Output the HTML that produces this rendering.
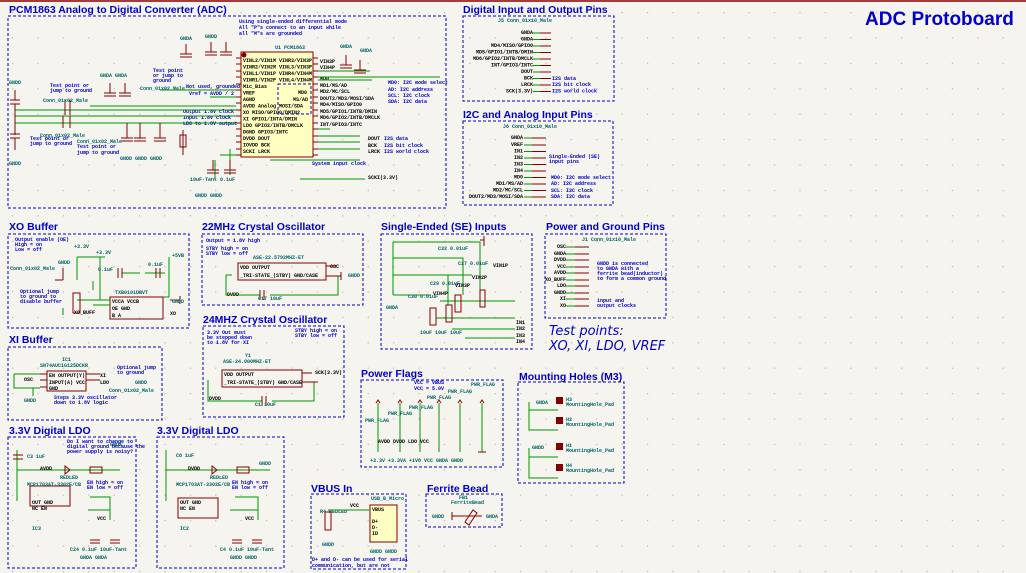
<!DOCTYPE html>
<html><head><meta charset="utf-8"><style>
html,body{margin:0;padding:0;background:#f5f4ef;}
svg{display:block}
.t{font-family:"Liberation Sans",sans-serif;font-weight:bold;fill:#0000c8;font-size:10.5px}
.s{font-family:"Liberation Mono",monospace;font-size:5px;fill:#000;font-weight:bold}
.b{font-family:"Liberation Mono",monospace;font-size:5px;fill:#0000c8;font-weight:bold}
.g{font-family:"Liberation Mono",monospace;font-size:5px;fill:#006464;font-weight:bold}
.box{fill:none;stroke:#0000c8;stroke-width:1;stroke-dasharray:3,2}
.w{stroke:#009600;stroke-width:1;fill:none}
.r{stroke:#840000;stroke-width:1;fill:none}
.chip{fill:#ffffc2;stroke:#840000;stroke-width:1}
.ic{fill:none;stroke:#840000;stroke-width:1}
</style></head><body>
<svg width="1026" height="573" viewBox="0 0 1026 573" xmlns="http://www.w3.org/2000/svg">
<defs><pattern id="dots" width="25.4" height="25.4" patternUnits="userSpaceOnUse"><rect x="12" y="12" width="1.2" height="1.2" fill="#b8b8b0"/></pattern></defs>
<rect width="1026" height="573" fill="#f5f4ef"/>
<rect width="1026" height="573" fill="url(#dots)"/>
<line x1="0" y1="1" x2="1026" y2="1" stroke="#840000" stroke-width="1.5"/>

<!-- ADC -->
<text class="t" x="9" y="13">PCM1863 Analog to Digital Converter (ADC)</text>
<rect class="box" x="8" y="16" width="438" height="192"/>
<text class="b" x="239" y="23">Using single-ended differential mode</text>
<text class="b" x="239" y="29">All "P"s connect to an input while</text>
<text class="b" x="239" y="35">all "M"s are grounded</text>
<rect class="chip" x="241" y="52" width="72" height="105"/>
<circle cx="244" cy="55" r="2.5" fill="#840000"/>
<text class="g" x="275" y="49">U1 PCM1863</text>
<g class="s">
<text x="243" y="62">VINL2/VIN1M VINR3/VIN3P</text>
<text x="243" y="68.5">VINR2/VIN2M VINL3/VIN3P</text>
<text x="243" y="75">VINL1/VIN1P VINR4/VIN4M</text>
<text x="243" y="81.5">VINR1/VIN2P VINL4/VIN4M</text>
<text x="243" y="88">Mic_Bias</text><text x="243" y="94.5">VREF</text><text x="243" y="101">AGND</text><text x="243" y="107.5">AVDD Analog  MOSI/SDA</text>
<text x="243" y="114">XO     MISO/GPIO0/DMIN2</text><text x="243" y="120.5">XI    GPIO1/INTA/DMIN</text>
<text x="243" y="127">LDO  GPIO2/INTB/DMCLK</text><text x="243" y="133.5">DGND      GPIO3/INTC</text>
<text x="243" y="140">DVDD          DOUT</text><text x="243" y="146.5">IOVDD          BCK</text><text x="243" y="153">SCKI          LRCK</text>
<text x="298" y="94">MD0</text><text x="293" y="101">MS/AD</text>
</g>
<rect class="box" x="278" y="84" width="33" height="30"/>
<g class="r">
<path d="M236 58h5M236 64h5M236 71h5M236 77h5M236 84h5M236 90h5M236 97h5M236 103h5M236 110h5M236 116h5M236 123h5M236 129h5M236 136h5M236 142h5M236 149h5M236 155h5"/>
<path d="M313 58h5M313 64h5M313 71h5M313 77h5M313 84h5M313 90h5M313 97h5M313 103h5M313 110h5M313 116h5M313 123h5M313 129h5M313 136h5M313 142h5M313 149h5M313 155h5"/>
</g>
<g class="s">
<text x="320" y="80">MD0</text><text x="320" y="87">MD1/MS/AD</text><text x="320" y="93">MD2/MC/SCL</text><text x="320" y="100">DOUT2/MD3/MOSI/SDA</text>
<text x="320" y="106">MD4/MISO/GPIO0</text><text x="320" y="113">MD5/GPIO1/INTB/DMIN</text><text x="320" y="119">MD6/GPIO2/INTB/DMCLK</text><text x="320" y="126">INT/GPIO3/INTC</text>
<text x="368" y="140">DOUT</text><text x="368" y="147">BCK</text><text x="368" y="153">LRCK</text><text x="368" y="179">SCKI(3.3V)</text>
<text x="320" y="63">VIN3P</text><text x="320" y="69">VIN4P</text>
</g>
<g class="b"><text x="388" y="84">MD0: I2C mode select</text><text x="388" y="91">AD: I2C address</text><text x="388" y="97">SCL: I2C clock</text><text x="388" y="103">SDA: I2C data</text>
<text x="384" y="140">I2S data</text><text x="384" y="147">I2S bit clock</text><text x="384" y="153">I2S world clock</text><text x="312" y="165">System input clock</text>
<text x="50" y="87">Test point or</text><text x="50" y="92">jump to ground</text><text x="153" y="72">Test point</text><text x="153" y="77">or jump to</text><text x="153" y="82">ground</text>
<text x="186" y="88">Not used, grounded</text><text x="189" y="95">Vref = AVDD / 2</text>
<text x="183" y="113">Output 1.8V clock</text><text x="183" y="119">Input 1.8V clock</text><text x="183" y="125">LDO to 1.8V output</text>
<text x="30" y="140">Test point or</text><text x="30" y="145">jump to ground</text><text x="77" y="148">Test point or</text><text x="77" y="154">jump to ground</text></g>
<g class="w">
<path d="M15 110H236M15 116H236M15 123H236M90 106H236M210 97H236"/>
<path d="M318 136H360M318 142H360M318 149H360M270 160H360M300 179H365M318 80H372M318 129H330"/>
<path d="M318 77H440M318 71H370M160 90H236"/>
<path d="M215 160V180M230 149V175M220 155H236"/>
</g>
<g class="r">
<path d="M15 90V100M10 100h10M10 104h10M15 104V135M10 134h10M10 138h10M15 138V150"/>
<path d="M110 83v10M104 93h12M104 96h12M125 83v10M119 93h12M119 96h12"/>
<path d="M127 123v15M121 138h12M121 141h12M140 123v15M134 138h12M134 141h12M160 123v15M154 138h12M154 141h12"/>
<path d="M183 130v25M180 135h6v12h-6z"/>
<path d="M213 160v10M207 170h12M207 173h12M230 160v10M224 170h12M224 173h12"/>
<path d="M186 44v10M180 54h12M180 57h12M211 42v10M205 52h12M205 55h12M226 42v10M220 52h12M220 55h12M346 55v10M340 65h12M340 68h12M360 60v10M354 70h12M354 73h12"/>
<path d="M65 100v15M70 100v15M63 116v12M70 116v12"/>
</g>
<g class="g"><text x="9" y="84">GNDD</text><text x="9" y="165">GNDD</text><text x="120" y="160">GNDD GNDD GNDD</text><text x="195" y="197">GNDD GNDD</text><text x="180" y="40">GNDA</text><text x="205" y="38">GNDD</text><text x="340" y="48">GNDA</text><text x="360" y="52">GNDA</text>
<text x="43" y="102">Conn_01x02_Male</text><text x="40" y="137">Conn_01x02_Male</text><text x="77" y="143">Conn_01x02_Male</text><text x="140" y="90">Conn_01x02_Male</text><text x="100" y="77">GNDA GNDA</text><text x="190" y="181">10uF-Tant 0.1uF</text></g>

<!-- Digital I/O -->
<text class="t" x="463" y="13">Digital Input and Output Pins</text>
<rect class="box" x="463" y="16" width="151" height="85"/>
<text class="g" x="498" y="22">J5   Conn_01x10_Male</text>
<g class="s" text-anchor="end"><text x="533" y="34">GNDA</text><text x="533" y="40.5">GNDA</text><text x="533" y="47">MD4/MISO/GPIO0</text><text x="533" y="53.5">MD5/GPIO1/INTB/DMIN</text><text x="533" y="60">MD6/GPIO2/INTB/DMCLK</text><text x="533" y="66.5">INT/GPIO3/INTC</text><text x="533" y="73">DOUT</text><text x="533" y="79.5">BCK</text><text x="533" y="86">LRCK</text><text x="533" y="92.5">SCK(3.3V)</text></g>
<g class="r"><path d="M540 33h11M540 39.5h11M540 46h11M540 52.5h11M540 59h11M540 65.5h11M540 72h11M540 78.5h11M540 85h11M540 91.5h11"/></g>
<g class="w"><path d="M533 33h7M533 39.5h7M533 46h7M533 52.5h7M533 59h7M533 65.5h7M533 72h7M533 78.5h7M533 85h7M533 91.5h7"/></g>
<g class="b"><text x="552" y="80">I2S data</text><text x="552" y="86">I2S bit clock</text><text x="552" y="92.5">I2S world clock</text></g>

<!-- I2C -->
<text class="t" x="463" y="118">I2C and Analog Input Pins</text>
<rect class="box" x="463" y="121" width="150" height="84"/>
<text class="g" x="503" y="128">J6   Conn_01x10_Male</text>
<g class="s" text-anchor="end"><text x="523" y="139">GNDA</text><text x="523" y="146">VREF</text><text x="523" y="152.5">IN1</text><text x="523" y="159">IN2</text><text x="523" y="165.5">IN3</text><text x="523" y="172">IN4</text><text x="523" y="178.5">MD0</text><text x="523" y="185">MD1/MS/AD</text><text x="523" y="191.5">MD2/MC/SCL</text><text x="523" y="198">DOUT2/MD3/MOSI/SDA</text></g>
<g class="r"><path d="M532 138h14M532 145h14M532 151.5h14M532 158h14M532 164.5h14M532 171h14M532 177.5h14M532 184h14M532 190.5h14M532 197h14"/></g>
<g class="w"><path d="M524 138h8M524 145h8M524 151.5h8M524 158h8M524 164.5h8M524 171h8M524 177.5h8M524 184h8M524 190.5h8M524 197h8"/></g>
<g class="b"><text x="549" y="158">Single-Ended (SE)</text><text x="549" y="163">input pins</text><text x="551" y="179">MD0: I2C mode select</text><text x="551" y="185">AD: I2C address</text><text x="551" y="192">SCL: I2C clock</text><text x="551" y="198">SDA: I2C data</text></g>

<text x="865" y="25" style="font-family:'Liberation Sans',sans-serif;font-weight:bold;font-size:19px;fill:#0000c8">ADC Protoboard</text>

<!-- XO Buffer -->
<text class="t" x="9" y="230">XO Buffer</text>
<rect class="box" x="8" y="234" width="181" height="94"/>
<g class="b"><text x="15" y="241">Output enable (OE)</text><text x="15" y="246">High = on</text><text x="15" y="251">Low = off</text><text x="20" y="293">Optional jump</text><text x="20" y="298">to ground to</text><text x="20" y="303">disable buffer</text></g>
<rect class="ic" x="110" y="297" width="53" height="22"/>
<g class="s"><text x="112" y="303">VCCA   VCCB</text><text x="112" y="310">OE      GND</text><text x="112" y="317">B         A</text><text x="74" y="314">XO_BUFF</text><text x="170" y="315">XO</text></g>
<text class="g" x="115" y="294">TXB0101DBVT</text>
<g class="w"><path d="M77 280V257M77 257H105M93 281V290M93 305H110M77 300H110M63 308V315M100 257V300H110M169 257V297H163M122 273h18M145 273h20"/></g>
<g class="r"><path d="M73 293h7v20h-7zM118 268v10M122 268v10M160 268v10M156 268v10M170 300h10M180 296v8M55 280h8M63 268v12"/></g>
<g class="g"><text x="10" y="270">Conn_01x02_Male</text><text x="58" y="264">GNDD</text><text x="74" y="248">+3.3V</text><text x="96" y="254">+3.3V</text><text x="172" y="257">+5VB</text><text x="98" y="271">0.1uF</text><text x="148" y="266">0.1uF</text><text x="172" y="303">GNDD</text></g>

<!-- 22MHz -->
<text class="t" x="202" y="230">22MHz Crystal Oscillator</text>
<rect class="box" x="202" y="234" width="161" height="71"/>
<g class="b"><text x="206" y="242">Output = 1.8V high</text><text x="206" y="250">STBY high = on</text><text x="206" y="255">STBY low = off</text></g>
<text class="g" x="253" y="259">ASE-22.5792MHZ-ET</text>
<rect class="ic" x="238" y="263" width="88" height="17"/>
<g class="s"><text x="240" y="269">VDD             OUTPUT</text><text x="240" y="277">_TRI-STATE_(STBY) GND/CASE</text><text x="330" y="268">OSC</text><text x="227" y="296">DVDD</text></g>
<g class="w"><path d="M226 275V295H260M270 295H338V276M226 275h6"/></g>
<g class="r"><path d="M260 290v10M264 290v10M326 266h10M326 276h15M341 272v8"/></g>
<g class="g"><text x="258" y="300">C17  10uF</text><text x="348" y="277">GNDD</text></g>

<!-- 24MHz -->
<text class="t" x="203" y="323">24MHZ Crystal Oscillator</text>
<rect class="box" x="203" y="326" width="141" height="91"/>
<g class="b"><text x="207" y="334">3.3V Out must</text><text x="207" y="339">be stepped down</text><text x="207" y="344">to 1.8V for XI</text><text x="295" y="332">STBY high = on</text><text x="295" y="337">STBY low = off</text></g>
<text class="g" x="245" y="357">Y1</text><text class="g" x="223" y="363">ASE-24.000MHZ-ET</text>
<rect class="ic" x="222" y="370" width="80" height="17"/>
<g class="s"><text x="224" y="376">VDD            OUTPUT</text><text x="224" y="384">_TRI-STATE_(STBY) GND/CASE</text><text x="315" y="374">SCK(3.3V)</text><text x="209" y="400">DVDD</text></g>
<g class="w"><path d="M208 380V401H262M272 401H314V382"/></g>
<g class="r"><path d="M262 396v10M266 396v10M302 373h10M302 382h16"/></g>
<text class="g" x="255" y="406">C1  10uF</text>

<!-- XI Buffer -->
<text class="t" x="9" y="343">XI Buffer</text>
<rect class="box" x="8" y="347" width="154" height="73"/>
<text class="g" x="62" y="361">IC1</text><text class="g" x="40" y="367">SN74AUC1G125DCKR</text>
<rect class="ic" x="47" y="371" width="39" height="20"/>
<g class="s"><text x="49" y="377">EN OUTPUT(Y)</text><text x="49" y="384">INPUT(A) VCC</text><text x="49" y="390">GND</text><text x="24" y="381">OSC</text><text x="100" y="377">XI</text><text x="100" y="384">LDO</text></g>
<g class="w"><path d="M14 374H40M14 374V388H40M33 388v8"/></g>
<g class="r"><path d="M40 374h7M40 380h7M40 387h7M86 374h14M86 380h14"/></g>
<g class="b"><text x="117" y="369">Optional jump</text><text x="117" y="374">to ground</text><text x="54" y="399">Steps 3.3V oscillator</text><text x="54" y="404">down to 1.8V logic</text></g>
<g class="g"><text x="24" y="402">GNDD</text><text x="109" y="392">Conn_01x02_Male</text><text x="135" y="384">GNDD</text></g>

<!-- SE inputs -->
<text class="t" x="381" y="230">Single-Ended (SE) Inputs</text>
<rect class="box" x="381" y="234" width="151" height="115"/>
<g class="w"><path d="M393 242H480V290M393 258H463V295M393 275H472M393 295H430M393 242V295M440 301H515M436 318H515M452 329H515M465 338H515M400 275H448V305"/></g>
<g class="r"><path d="M480 240h4M484 236v10M480 290h5v17h-5z M455 295h6v17h-6z M430 308h6v17h-6z M446 305h6v17h-6z"/></g>
<g class="s"><text x="516" y="324">IN1</text><text x="516" y="330">IN2</text><text x="516" y="337">IN3</text><text x="516" y="343">IN4</text><text x="493" y="267">VIN1P</text><text x="472" y="279">VIN2P</text><text x="455" y="287">VIN3P</text><text x="433" y="295">VIN4P</text></g>
<g class="g"><text x="438" y="250">C32 0.01uF</text><text x="458" y="265">C27 0.01uF</text><text x="430" y="285">C29 0.01uF</text><text x="408" y="298">C30 0.01uF</text><text x="386" y="309">GNDA</text><text x="420" y="334">10uF 10uF 10uF</text></g>

<!-- Power & ground -->
<text class="t" x="546" y="230">Power and Ground Pins</text>
<rect class="box" x="545" y="234" width="121" height="84"/>
<text class="g" x="582" y="241">J1  Conn_01x10_Male</text>
<g class="s" text-anchor="end"><text x="566" y="248">OSC</text><text x="566" y="255">GNDA</text><text x="566" y="261">DVDD</text><text x="566" y="268">VCC</text><text x="566" y="274">AVDD</text><text x="566" y="281">XO_BUFF</text><text x="566" y="287">LDO</text><text x="566" y="294">GNDD</text><text x="566" y="300">XI</text><text x="566" y="307">XO</text></g>
<g class="r"><path d="M575 247h14M575 254h14M575 260h14M575 267h14M575 273h14M575 280h14M575 286h14M575 293h14M575 299h14M575 306h14"/></g>
<g class="w"><path d="M566 247h9M566 254h9M566 260h9M566 267h9M566 273h9M566 280h9M566 286h9M566 293h9M566 299h9M566 306h9"/></g>
<g class="b"><text x="597" y="265">GNDD is connected</text><text x="597" y="270">to GNDA with a</text><text x="597" y="275">ferrite bead(inductor)</text><text x="597" y="280">to form a common ground</text><text x="597" y="302">input and</text><text x="597" y="307">output clocks</text></g>
<text x="549" y="335" style="font-family:'DejaVu Sans',sans-serif;font-style:italic;font-size:13px;fill:#0000c8">Test points:</text>
<text x="549" y="350" style="font-family:'DejaVu Sans',sans-serif;font-style:italic;font-size:13px;fill:#0000c8">XO, XI, LDO, VREF</text>

<!-- Power flags -->
<text class="t" x="361" y="377">Power Flags</text>
<rect class="box" x="361" y="380" width="142" height="87"/>
<g class="b"><text x="414" y="384">VCC = VBUS</text><text x="414" y="390">VCC = 5.0V</text></g>
<g class="g"><text x="471" y="386">PWR_FLAG</text><text x="448" y="393">PWR_FLAG</text><text x="427" y="399">PWR_FLAG</text><text x="409" y="409">PWR_FLAG</text><text x="388" y="415">PWR_FLAG</text><text x="365" y="422">PWR_FLAG</text><text x="370" y="462">+3.3V +3.3VA +1V8  VCC  GNDA  GNDD</text></g>
<g class="w"><path d="M378 403V452M400 403V452M420 403V452M439 403V452M460 403V452M482 403V452"/></g>
<g class="s"><text x="378" y="443">AVDD  DVDD  LDO  VCC</text></g>
<g class="r"><path d="M376 403l2-3 2 3M398 403l2-3 2 3M418 403l2-3 2 3M437 403l2-3 2 3M458 403l2-3 2 3M480 403l2-3 2 3M478 452h8"/></g>

<!-- Mounting holes -->
<text class="t" x="519" y="380">Mounting Holes (M3)</text>
<rect class="box" x="518" y="382" width="106" height="101"/>
<g class="w"><path d="M529 402V430H558M529 410H558M529 448V478H558M529 457H558"/></g>
<g fill="#840000"><rect x="556" y="397" width="7" height="7"/><rect x="556" y="417" width="7" height="7"/><rect x="556" y="443" width="7" height="7"/><rect x="556" y="464" width="7" height="7"/></g>
<g class="g"><text x="536" y="404">GNDA</text><text x="532" y="449">GNDD</text><text x="566" y="401">H3</text><text x="566" y="406">MountingHole_Pad</text><text x="566" y="421">H2</text><text x="566" y="426">MountingHole_Pad</text><text x="566" y="447">H1</text><text x="566" y="452">MountingHole_Pad</text><text x="566" y="467">H4</text><text x="566" y="472">MountingHole_Pad</text></g>

<!-- LDO 1 -->
<text class="t" x="9" y="434">3.3V Digital LDO</text>
<rect class="box" x="8" y="437" width="128" height="131"/>
<g class="b"><text x="67" y="443">Do I want to change to</text><text x="67" y="448">digital ground because the</text><text x="67" y="453">power supply is noisy?</text><text x="87" y="484">EN high = on</text><text x="87" y="489">EN low = off</text></g>
<g class="w"><path d="M17 470H120M17 450V501M90 497H110V520M88 510H110"/></g>
<rect class="ic" x="30" y="486" width="40" height="20"/>
<g class="s"><text x="32" y="504">OUT  GND</text><text x="32" y="510">NC    EN</text><text x="40" y="470">AVDD</text><text x="97" y="520">VCC</text></g>
<g class="g"><text x="27" y="486">MCP1703AT-3302E/CB</text><text x="32" y="530">IC3</text><text x="27" y="458">C3 1uF</text><text x="110" y="446">GNDA</text><text x="60" y="479">REDLED</text><text x="70" y="551">C24 0.1uF  10uF-Tant</text><text x="80" y="559">GNDA GNDA</text></g>
<g class="r"><path d="M13 455h10M13 459h10M90 467h12v6H90zM65 466l5 4-5 4z M90 540h10M90 543h10M110 540h10M110 543h10"/></g>

<!-- LDO 2 -->
<text class="t" x="157" y="434">3.3V Digital LDO</text>
<rect class="box" x="157" y="437" width="127" height="131"/>
<g class="w"><path d="M166 470H270M166 450V501M235 497H258V520M230 510H258"/></g>
<rect class="ic" x="178" y="498" width="40" height="20"/>
<g class="s"><text x="180" y="504">OUT  GND</text><text x="180" y="510">NC    EN</text><text x="188" y="470">DVDD</text><text x="245" y="520">VCC</text></g>
<g class="g"><text x="176" y="486">MCP1703AT-3302E/CB</text><text x="180" y="530">IC2</text><text x="176" y="457">C8 1uF</text><text x="259" y="465">GNDD</text><text x="210" y="479">REDLED</text><text x="220" y="551">C4 0.1uF  10uF-Tant</text><text x="230" y="559">GNDD GNDD</text></g>
<g class="b"><text x="232" y="484">EN high = on</text><text x="232" y="489">EN low = off</text></g>
<g class="r"><path d="M237 467h12v6h-12zM212 466l5 4-5 4z M232 540h10M232 543h10M252 540h10M252 543h10"/></g>

<!-- VBUS -->
<text class="t" x="311" y="492">VBUS In</text>
<rect class="box" x="311" y="494" width="95" height="75"/>
<rect class="chip" x="370" y="505" width="27" height="37"/>
<g class="g"><text x="371" y="500">USB_B_Micro</text><text x="320" y="513">R4 REDLED</text><text x="322" y="546">GNDD</text><text x="370" y="553">GNDD GNDD</text></g>
<g class="s"><text x="372" y="511">VBUS</text><text x="372" y="523">D+</text><text x="372" y="529">D-</text><text x="372" y="535">ID</text><text x="350" y="507">VCC</text></g>
<g class="w"><path d="M328 510H370"/></g>
<g class="r"><path d="M325 512h6v18h-6z"/></g>
<g class="b"><text x="312" y="561">D+ and D- can be used for serial</text><text x="312" y="567">communication, but are not</text></g>

<!-- Ferrite -->
<text class="t" x="427" y="492">Ferrite Bead</text>
<rect class="box" x="426" y="494" width="76" height="33"/>
<g class="g"><text x="459" y="499">FB1</text><text x="451" y="504">FerriteBead</text><text x="432" y="518">GNDD</text><text x="486" y="518">GNDA</text></g>
<g class="r"><path d="M452 516h30M452 512v8M465 522l8-12 4 3-8 12z"/></g>
</svg>
</body></html>
